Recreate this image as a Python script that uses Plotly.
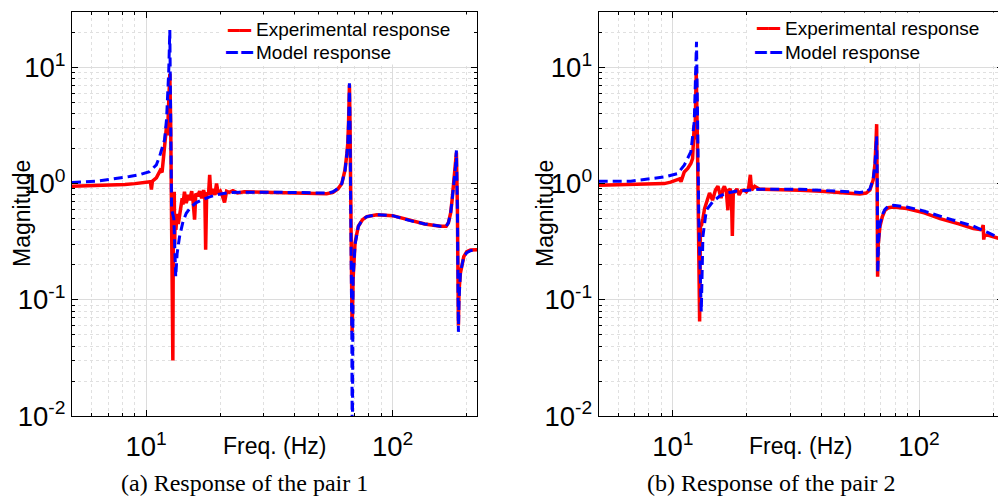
import math
import plotly.graph_objects as go

# ---------------- data ----------------
freq_exp_1 = [5.0, 5.5, 6.2, 6.8, 7.5, 8.2, 9.0, 9.6, 10.0, 10.4, 10.5, 10.6, 11.0, 11.4, 11.6, 11.73,
              11.9, 12.09, 12.2, 12.3, 12.47, 12.58, 12.68, 12.75, 12.83, 12.88, 12.95, 13.0, 13.05,
              13.1, 13.2, 13.35, 13.5, 13.66, 13.85, 14.0, 14.1, 14.3, 14.54, 14.8, 15.0, 15.3, 15.5,
              15.72, 15.9, 16.2, 16.48, 16.8, 17.1, 17.3, 17.43, 17.6, 17.9, 18.1, 18.3, 18.6, 19.0,
              19.3, 19.6, 20.0, 20.4, 20.8, 21.2, 21.7, 22.5, 23.5, 25, 30, 35, 40, 45, 50, 54, 57.3,
              60, 62.2, 64.1, 65.2, 65.8, 66.3, 66.8, 67.2, 67.5, 68.0, 68.5, 69.1, 70.4, 72.6, 75.5,
              78.6, 86.3, 100, 117.9, 135, 156.3, 165, 168.4, 172, 174.3, 178.1, 180, 181.5, 183.2,
              184.9, 186, 188.4, 194.4, 200, 207, 221]
mag_exp_1 = [0.95, 0.955, 0.96, 0.965, 0.975, 0.985, 1.0, 1.01, 1.02, 1.04, 0.89, 1.05, 1.12, 1.3, 1.25,
             1.64, 2.14, 3.1, 2.6, 4.2, 8.8, 3.0, 0.6, 0.2, 0.03, 0.3, 0.6, 0.85, 0.3, 0.5, 0.4, 0.55,
             0.45, 0.52, 0.62, 0.75, 0.66, 0.85, 0.68, 0.8, 0.72, 0.86, 0.7, 0.49, 0.82, 0.78, 0.86,
             0.75, 0.88, 0.8, 0.27, 0.84, 0.8, 1.19, 0.8, 0.9, 0.8, 1.0, 0.82, 0.86, 0.78, 0.69, 0.86,
             0.84, 0.87, 0.83, 0.85, 0.84, 0.835, 0.83, 0.825, 0.82, 0.82, 0.84, 0.9, 1.0, 1.31, 1.8,
             2.23, 3.5, 7.1, 3.0, 1.0, 0.3, 0.053, 0.15, 0.31, 0.43, 0.49, 0.52, 0.54, 0.53, 0.48,
             0.45, 0.43, 0.43, 0.46, 0.56, 0.72, 1.1, 1.4, 1.85, 0.6, 0.06, 0.12, 0.17, 0.235, 0.26,
             0.268, 0.27]

freq_model_1 = [5.0, 6.46, 8.55, 9.5, 10.32, 11.0, 11.33, 11.87, 12.1, 12.21, 12.35, 12.47, 12.55, 12.68,
                12.95, 13.1, 13.18, 13.35, 13.66, 14.1, 14.54, 15.2, 15.97, 17, 18.1, 19.8, 21.8, 25,
                30, 40, 50, 55, 57.3, 60, 62.2, 64.1, 65.2, 65.8, 66.3, 66.8, 67.2, 67.5, 68.0, 68.3,
                68.6, 68.9, 69.1, 70.4, 72.6, 75.5, 78.6, 86.3, 100, 117.9, 135, 156.3, 165, 168.4, 172,
                174.3, 178.1, 180, 181.5, 183.2, 184.9, 186, 188.4, 194.4, 200, 207, 221]
mag_model_1 = [1.02, 1.055, 1.15, 1.2, 1.27, 1.45, 1.71, 2.38, 3.6, 5.26, 9.5, 21, 8, 0.6, 0.5, 0.2, 0.158,
               0.25, 0.35, 0.47, 0.556, 0.63, 0.686, 0.73, 0.77, 0.81, 0.84, 0.845, 0.845, 0.84, 0.83,
               0.83, 0.85, 0.91, 1.0, 1.3, 1.8, 2.2, 3.5, 7.3, 3.0, 1.0, 0.3, 0.05, 0.004, 0.05, 0.15,
               0.3, 0.43, 0.49, 0.52, 0.54, 0.53, 0.48, 0.45, 0.43, 0.43, 0.46, 0.56, 0.72, 1.1, 1.4,
               1.93, 0.6, 0.053, 0.1, 0.17, 0.235, 0.255, 0.265, 0.27]

freq_exp_2 = [5.0, 6.0, 6.75, 7.8, 9.23, 9.8, 10.45, 10.65, 10.8, 11.13, 11.5, 11.84, 12.03, 12.22, 12.3,
              12.45, 12.6, 12.7, 12.85, 12.95, 13.05, 13.25, 13.46, 13.8, 14.1, 14.5, 14.9, 15.25,
              15.49, 15.7, 16.0, 16.2, 16.5, 16.74, 16.9, 17.1, 17.3, 17.45, 17.6, 17.8, 18.2, 18.6,
              19.0, 19.5, 19.9, 20.3, 20.65, 20.9, 21.5, 22.5, 26, 32.8, 40, 47, 52.4, 57.5, 61, 63.2,
              65.2, 66.3, 67.0, 67.3, 67.6, 67.9, 68.3, 69.4, 71, 72.7, 75, 78.6, 89.1, 105, 121.8,
              145, 166.3, 180, 181.5, 182.3, 183.2, 184.5, 190, 200, 220]
mag_exp_2 = [0.97, 0.975, 0.98, 0.99, 1.0, 1.03, 1.07, 1.1, 1.04, 1.26, 1.35, 1.49, 1.64, 3.18, 2.4, 9.2,
             2.0, 0.46, 0.065, 0.46, 0.43, 0.5, 0.61, 0.72, 0.83, 0.72, 0.88, 0.95, 0.8, 0.75, 0.9,
             0.95, 0.85, 0.59, 0.88, 0.9, 0.8, 0.354, 0.82, 0.85, 0.9, 0.8, 0.87, 0.88, 0.85, 0.9,
             1.19, 0.88, 0.95, 0.895, 0.89, 0.875, 0.86, 0.84, 0.826, 0.815, 0.83, 0.88, 1.08, 1.5,
             2.5, 3.25, 1.0, 0.158, 0.3, 0.43, 0.52, 0.59, 0.62, 0.63, 0.61, 0.56, 0.50, 0.45, 0.41,
             0.40, 0.44, 0.44, 0.33, 0.36, 0.36, 0.35, 0.33]

freq_model_2 = [5.0, 6.75, 9.23, 10.45, 11.13, 11.84, 12.22, 12.35, 12.48, 12.6, 12.75, 13.05, 13.25,
                13.68, 14.54, 15.5, 16.49, 18, 19.89, 22.5, 32.8, 42, 52.4, 57.5, 61, 63.2, 65.2, 66.3,
                67.0, 67.3, 67.7, 68.0, 68.5, 69.4, 71, 72.7, 75, 78.6, 89.1, 105, 121.8, 145, 166.3,
                190, 220]
mag_model_2 = [1.05, 1.05, 1.14, 1.22, 1.44, 1.88, 3.4, 6.5, 16.6, 4.0, 0.5, 0.079, 0.35, 0.59, 0.70,
               0.78, 0.826, 0.86, 0.88, 0.895, 0.895, 0.875, 0.853, 0.84, 0.85, 0.9, 1.1, 1.5, 2.2,
               2.55, 1.0, 0.17, 0.32, 0.45, 0.54, 0.6, 0.64, 0.65, 0.63, 0.58, 0.525, 0.47, 0.43,
               0.38, 0.33]

# tick label texts (decade ticks shown as powers of ten)
tick_label_alias = {
    "1": "10<sup>0</sup>",
    "10": "10<sup>1</sup>",
    "10<sup>\u22121</sup>": "10<sup>-1</sup>",
    "10<sup>\u22122</sup>": "10<sup>-2</sup>",
}
x_limits = [5, 220]
y_limits = [0.01, 30]
captions = ["(a) Response of the pair 1", "(b) Response of the pair 2"]
series_names = ["Experimental response", "Model response"]
x_title = "Freq. (Hz)"
y_title = "Magnitude"

# ---------------- figure ----------------
# the page body has an 8px margin, so the figure sits at (8, 8) in the window
W, H = 998, 490
SANS = "Liberation Sans, Arial, sans-serif"
SERIF = "Liberation Serif, Times New Roman, serif"
RED = "#ff0000"
BLUE = "#0000ff"


def px(xw):
    return (xw - 8) / W


def py(yw):
    return 1 - (yw - 8) / H


fig = go.Figure()

panels = [
    dict(fe=freq_exp_1, me=mag_exp_1, fm=freq_model_1, mm=mag_model_1, x="x", y="y",
         dom=[px(72), px(477)], key_cx=238.5, text_x=254, rows=[30, 52.3],
         box=[220, 473, 15, 64], ylab_x=22, cap_x=244.5, cap=captions[0]),
    dict(fe=freq_exp_2, me=mag_exp_2, fm=freq_model_2, mm=mag_model_2, x="x2", y="y2",
         dom=[px(598.7), px(1003.3)], key_cx=768, text_x=783, rows=[28.5, 52.3],
         box=[749, 1001, 13, 63], ylab_x=545, cap_x=771.7, cap=captions[1]),
]

ydom = [py(416), py(12)]
xrange_log = [math.log10(x_limits[0]), math.log10(x_limits[1])]
yrange_log = [math.log10(y_limits[0]), math.log10(y_limits[1])]

for p in panels:
    fig.add_trace(go.Scatter(x=p["fe"], y=p["me"], mode="lines", name=series_names[0],
                             line=dict(color=RED, width=3.5), xaxis=p["x"], yaxis=p["y"],
                             showlegend=False))
    fig.add_trace(go.Scatter(x=p["fm"], y=p["mm"], mode="lines", name=series_names[1],
                             line=dict(color=BLUE, width=3, dash="9px,5px"), xaxis=p["x"],
                             yaxis=p["y"], showlegend=False))

axis_common = dict(
    type="log", showline=True, linecolor="black", linewidth=1.3, mirror="allticks",
    ticks="inside", ticklen=6, tickcolor="black", automargin=False,
    showgrid=True, gridcolor="#dcdcdc", zeroline=False,
    tickfont=dict(family=SANS, size=22, color="black"),
    tickmode="linear", tick0=0, dtick=1, exponentformat="power",
    labelalias=tick_label_alias,
    minor=dict(dtick="D1", ticks="inside", ticklen=3, tickcolor="black", showgrid=True,
               gridcolor="#e0e0e0", griddash="dot"),
)

layout_axes = {}
for p in panels:
    xs, ys = p["x"].replace("x", "xaxis"), p["y"].replace("y", "yaxis")
    layout_axes[xs] = dict(axis_common, domain=p["dom"], anchor=p["y"], range=xrange_log,
                           ticklabelstandoff=7)
    layout_axes[ys] = dict(axis_common, domain=ydom, anchor=p["x"], range=yrange_log,
                           ticklabelstandoff=1)
fig.update_layout(**layout_axes)

# legend keys: line glyphs in the series colours
key_glyphs = [
    '<span style="color:%s;font-family:DejaVu Sans">\u2501\u2501</span>' % RED,
    '<span style="color:%s;font-family:DejaVu Sans">\u2501\u2009\u2501</span>' % BLUE,
]

annotations = []
for p in panels:
    cx = (p["dom"][0] + p["dom"][1]) / 2
    # legend background box
    bx0, bx1, by0, by1 = p["box"]
    annotations.append(dict(text=" ", x=px((bx0 + bx1) / 2), y=py((by0 + by1) / 2),
                            xref="paper", yref="paper", showarrow=False, xanchor="center",
                            yanchor="middle", width=bx1 - bx0, height=by1 - by0,
                            bgcolor="white", borderpad=0, font=dict(size=10)))
    for k in range(2):
        annotations.append(dict(text=key_glyphs[k], x=px(p["key_cx"]), y=py(p["rows"][k]),
                                xref="paper", yref="paper", showarrow=False, xanchor="center",
                                yanchor="middle", font=dict(family=SANS, size=19, color="black")))
        annotations.append(dict(text=series_names[k], x=px(p["text_x"]), y=py(p["rows"][k]),
                                xref="paper", yref="paper", showarrow=False, xanchor="left",
                                yanchor="middle", font=dict(family=SANS, size=19, color="black")))
    annotations.append(dict(text=x_title, x=cx, y=py(445.5), xref="paper", yref="paper",
                            showarrow=False, xanchor="center", yanchor="middle",
                            font=dict(family=SANS, size=23, color="black")))
    annotations.append(dict(text=y_title, x=px(p["ylab_x"]), y=py(214),
                            xref="paper", yref="paper", showarrow=False, textangle=-90,
                            xanchor="center", yanchor="middle",
                            font=dict(family=SANS, size=23, color="black")))
    annotations.append(dict(text=p["cap"], x=px(p["cap_x"]), y=py(483), xref="paper",
                            yref="paper", showarrow=False, xanchor="center", yanchor="middle",
                            font=dict(family=SERIF, size=24, color="black")))

fig.update_layout(
    width=W, height=H, margin=dict(l=0, r=0, t=0, b=0, autoexpand=False),
    paper_bgcolor="white", plot_bgcolor="white", showlegend=False,
    annotations=annotations,
)

fig.write_html("out.html")
